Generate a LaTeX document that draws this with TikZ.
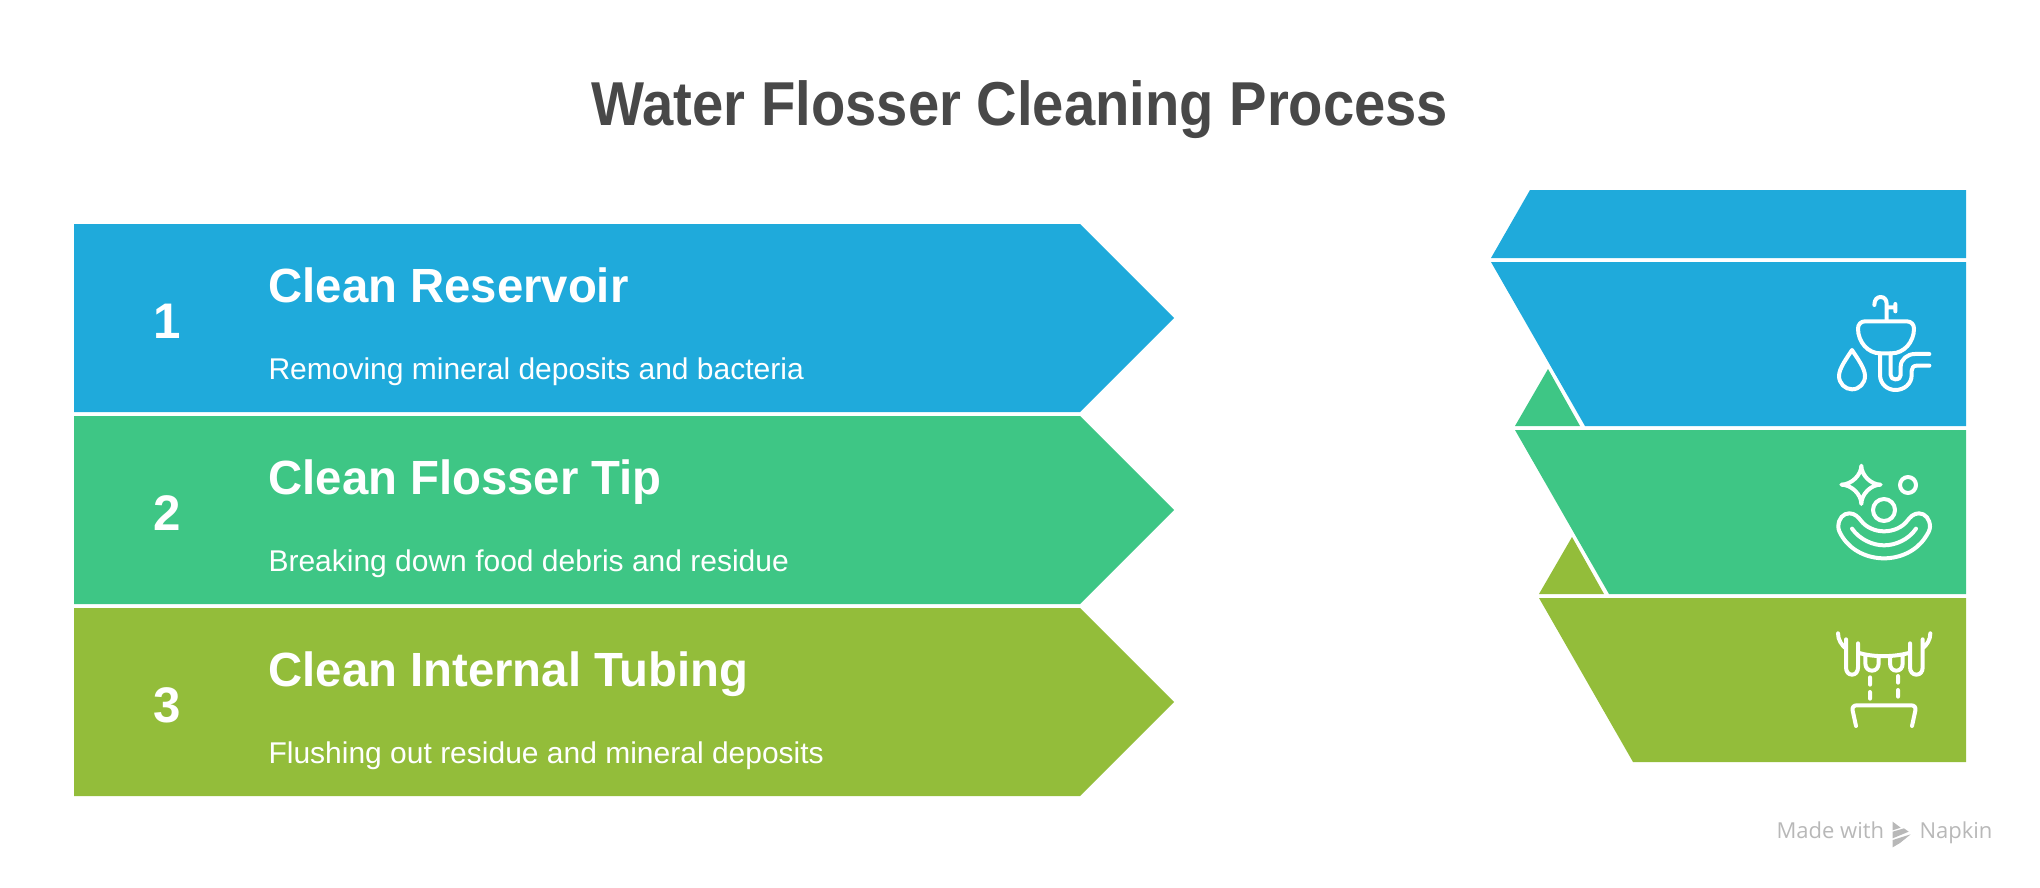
\documentclass[tikz,border=0pt]{standalone}
\usepackage{fontspec}
\setmainfont{Liberation Sans}
\newfontfamily\titlefont[FakeStretch=0.906]{Liberation Sans}
\newfontfamily\headfont[FakeStretch=0.985]{Liberation Sans}
\newfontfamily\markfont{Open Sans}
\definecolor{stepblue}{RGB}{31,170,219}
\definecolor{stepgreen}{RGB}{62,198,133}
\definecolor{stepolive}{RGB}{147,189,58}
\definecolor{titlegray}{RGB}{72,72,72}
\definecolor{markgray}{RGB}{184,184,184}
\begin{document}
\begin{tikzpicture}[x=1pt,y=-1pt,line join=round,line cap=round,
    titletext/.style={anchor=base,text=titlegray,font=\titlefont\fontsize{62}{62}\selectfont\bfseries},
    numtext/.style={anchor=base,text=white,font=\headfont\fontsize{50}{50}\selectfont\bfseries},
    headtext/.style={anchor=base west,text=white,font=\headfont\fontsize{48}{48}\selectfont\bfseries},
    subtext/.style={anchor=base west,text=white,font=\fontsize{30}{30}\selectfont},
    marktext/.style={anchor=base west,text=markgray,font=\markfont\fontsize{22}{22}\selectfont},
    icon/.style={draw=white,line width=4pt}]
    \useasboundingbox (0,0) rectangle (2040,888);
    \node[titletext] (title) at (1020,126) {Water Flosser Cleaning Process};
    \fill[stepblue] (74,224)--(1080,224)--(1174,318)--(1080,412)--(74,412)--cycle;
    \fill[stepgreen] (74,416)--(1080,416)--(1174,510)--(1080,604)--(74,604)--cycle;
    \fill[stepolive] (74,608)--(1080,608)--(1174,702)--(1080,796)--(74,796)--cycle;
    \node[numtext] (numone) at (167,338) {1};
    \node[numtext] (numtwo) at (167,530) {2};
    \node[numtext] (numthree) at (167,722) {3};
    \node[headtext] (headone) at (265,302) {Clean Reservoir};
    \node[headtext] (headtwo) at (265,494) {Clean Flosser Tip};
    \node[headtext] (headthree) at (265,686) {Clean Internal Tubing};
    \node[subtext] (subone) at (265,379) {Removing mineral deposits and bacteria};
    \node[subtext] (subtwo) at (265,571) {Breaking down food debris and residue};
    \node[subtext] (subthree) at (265,763) {Flushing out residue and mineral deposits};
    \fill[stepblue] (1530,190)--(1966,190)--(1966,258)--(1491,258)--cycle;
    \fill[stepblue] (1491,262)--(1966,262)--(1966,426)--(1585,426)--cycle;
    \fill[stepgreen] (1548,369)--(1580,426)--(1515,426)--cycle;
    \fill[stepgreen] (1515,430)--(1966,430)--(1966,594)--(1609,594)--cycle;
    \fill[stepolive] (1572,537)--(1604,594)--(1539,594)--cycle;
    \fill[stepolive] (1539,598)--(1966,598)--(1966,762)--(1633,762)--cycle;
    \begin{scope}[shift={(1460,170)},scale=1/3]
        \draw[icon]
        (1243,405)..controls(1243,388) and (1252,381)..(1262,381)
        ..controls(1274,381) and (1280,390)..(1280,402)--(1280,452)
        (1280,412)--(1306,412)
        (1306,402)--(1306,424)
        ;
        \draw[icon]
        (1215,454)--(1340,454)
        ..controls(1354,454) and (1362,464)..(1362,476)
        ..controls(1362,516) and (1332,550)..(1295,550)
        --(1260,550)
        ..controls(1224,550) and (1194,516)..(1194,476)
        ..controls(1194,464) and (1202,454)..(1215,454)
        --cycle;
        \draw[icon]
        (1260,550)--(1260,615)
        ..controls(1260,642) and (1282,660)..(1306,660)
        ..controls(1332,660) and (1355,642)..(1355,615)
        --(1355,602)
        ..controls(1355,594) and (1360,587)..(1370,587)
        --(1408,587)
        (1292,550)--(1292,615)
        ..controls(1292,623) and (1298,628)..(1306,628)
        ..controls(1316,628) and (1322,623)..(1322,615)
        --(1322,590)
        ..controls(1322,568) and (1342,552)..(1365,552)
        --(1408,552)
        ;
        \draw[icon]
        (1176,540)..controls(1160,565) and (1137,595)..(1137,618)
        ..controls(1137,640) and (1155,658)..(1176,658)
        ..controls(1198,658) and (1215,640)..(1215,618)
        ..controls(1215,595) and (1192,565)..(1176,540)
        --cycle;
    \end{scope}
    \begin{scope}[shift={(1460,430)},scale=1/3]
        \draw[icon]
        (1204,107)..controls(1204,135) and (1232,164)..(1262,164)
        ..controls(1232,164) and (1204,193)..(1204,222)
        ..controls(1204,193) and (1174,164)..(1144,164)
        ..controls(1174,164) and (1204,135)..(1204,107)
        --cycle;
        \draw[icon] (1344,165) circle[radius=24];
        \draw[icon] (1272,240) circle[radius=33];
        \draw[icon]
        (1135,290)..controls(1135,265) and (1150,250)..(1168,250)
        ..controls(1185,250) and (1195,262)..(1203,272)
        ..controls(1218,292) and (1245,304)..(1272,304)
        ..controls(1300,304) and (1327,292)..(1342,272)
        ..controls(1350,262) and (1360,250)..(1377,250)
        ..controls(1396,250) and (1410,268)..(1410,290)
        ..controls(1410,300) and (1404,310)..(1396,322)
        ..controls(1370,362) and (1322,385)..(1272,385)
        ..controls(1222,385) and (1174,362)..(1148,322)
        ..controls(1140,310) and (1135,300)..(1135,290)
        --cycle;
        \draw[icon]
        (1176,296)..controls(1200,330) and (1240,346)..(1272,346)
        ..controls(1305,346) and (1345,330)..(1368,296)
        ;
        \draw[icon]
        (1134,610)..controls(1134,630) and (1145,645)..(1157,655)
        (1411,610)..controls(1411,630) and (1400,645)..(1388,655)
        (1158,628)--(1158,712)
        ..controls(1158,725) and (1165,734)..(1176,734)
        ..controls(1187,734) and (1194,725)..(1194,712)
        --(1194,640)
        (1350,640)--(1350,712)
        ..controls(1350,725) and (1358,734)..(1369,734)
        ..controls(1381,734) and (1388,725)..(1388,712)
        --(1388,628)
        (1194,668)..controls(1240,682) and (1300,682)..(1350,668)
        (1216,680)--(1216,700)
        ..controls(1216,714) and (1225,722)..(1236,722)
        ..controls(1247,722) and (1256,714)..(1256,700)
        --(1256,682)
        (1290,682)--(1290,700)
        ..controls(1290,714) and (1298,722)..(1309,722)
        ..controls(1320,722) and (1328,714)..(1328,700)
        --(1328,680)
        (1230,742)--(1230,764)
        (1230,786)--(1230,806)
        (1314,738)--(1314,758)
        (1314,780)--(1314,800)
        (1188,888)--(1178,842)
        ..controls(1176,832) and (1181,826)..(1190,826)
        --(1354,826)
        ..controls(1363,826) and (1368,832)..(1366,842)
        --(1356,888)
        ;
    \end{scope}
    \node[marktext] (markleft) at (1773,838) {Made with};
    \node[marktext] (markright) at (1916,838) {Napkin};
    \begin{scope}[shift={(1880,815)},scale=1/3]
        \fill[markgray]
        (38,20)--(62,38)--(38,46)--cycle
        (38,50)--(72,40)--(86,50)--(38,70)--cycle
        (38,75)--(92,58)--(60,84)--(38,97)--cycle
        ;
    \end{scope}
\end{tikzpicture}
\end{document}
